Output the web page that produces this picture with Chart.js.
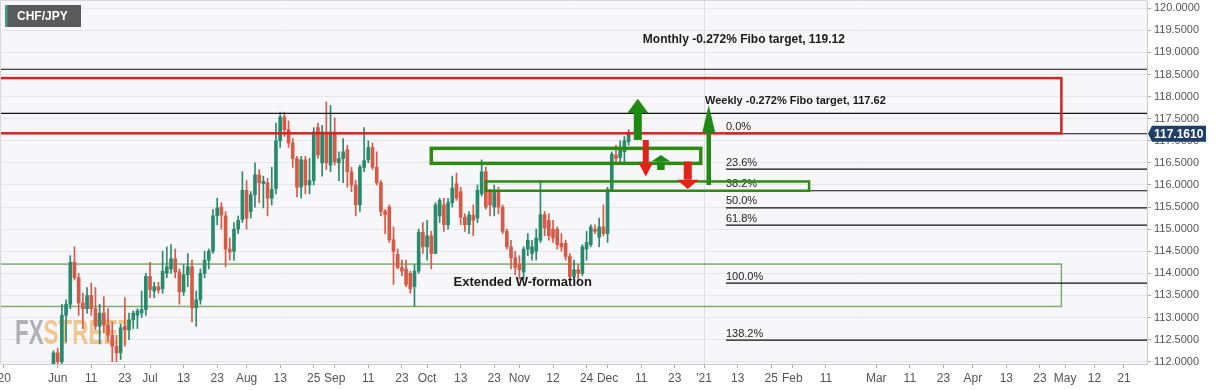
<!DOCTYPE html>
<html>
<head>
<meta charset="utf-8">
<script src="https://cdn.jsdelivr.net/npm/chart.js@4.4.0/dist/chart.umd.min.js"></script>
<style>
  html, body { margin: 0; padding: 0; background: #fff; }
  #wrap { width: 1218px; height: 390px; }
</style>
</head>
<body>
<div id="wrap"><canvas id="chart" width="1218" height="390"></canvas></div>
<script>
// time axis: trading days shown on the chart
var axisStart = '2020-05-13';
var axisEnd = '2021-05-28';

// CHF/JPY daily candles, first candle on 2020-05-29
var candleStart = '2020-05-29';
var opens = [111.95, 112.2, 112.0, 113.05, 113.3, 114.25, 113.9, 113.33, 113.2, 113.5, 113.2, 112.8, 113.1, 112.83, 112.6, 112.35,
  112.2, 112.8, 112.72, 112.95, 113.05, 113.1, 113.18, 113.93, 113.6, 113.7, 113.65, 114.0, 114.1, 114.33, 114.03, 113.58,
  113.97, 114.15, 113.22, 113.4, 114.0, 114.3, 114.5, 115.3, 115.5, 115.3, 114.55, 114.5, 115.0, 115.22, 115.88, 115.4,
  115.78, 116.23, 116.03, 116.05, 115.7, 115.92, 117.0, 117.54, 117.25, 116.95, 116.6, 115.95, 116.57, 116.0, 116.1, 117.3,
  116.5, 117.2, 116.45, 117.2, 116.5, 116.6, 116.8, 116.3, 116.0, 115.55, 116.4, 116.57, 116.85, 116.4, 116.05, 115.4,
  115.5, 114.76, 114.43, 114.13, 114.1, 114.0, 113.7, 114.05, 114.93, 114.6, 114.85, 114.45, 115.3, 115.55, 115.1, 115.6,
  116.03, 115.85, 115.27, 115.1, 115.32, 115.25, 115.8, 116.3, 115.85, 115.5, 115.83, 115.5, 114.95, 114.6, 114.35, 114.2,
  114.03, 114.55, 114.45, 114.5, 114.75, 115.33, 115.2, 115.0, 115.0, 114.68, 114.68, 114.38, 113.93, 114.08, 114.0, 114.55,
  114.65, 115.0, 114.82, 115.05, 114.9, 115.9, 116.68, 116.62, 116.75, 116.98];
var highs = [112.25, 112.3, 113.3, 113.4, 114.4, 114.6, 114.0, 113.55, 113.68, 113.78, 113.68, 113.3, 113.47, 113.2, 112.9, 112.6,
  112.85, 113.45, 113.1, 113.15, 113.2, 113.6, 114.0, 114.25, 113.8, 113.8, 114.5, 114.6, 114.65, 114.55, 114.1, 114.2,
  114.45, 114.3, 113.6, 114.1, 114.5, 114.55, 115.45, 115.7, 115.6, 115.4, 114.8, 115.15, 115.3, 116.3, 116.1, 115.85,
  116.5, 116.35, 116.2, 116.15, 116.4, 117.4, 117.65, 117.65, 117.45, 117.05, 116.65, 116.65, 116.65, 116.6, 117.3, 117.4,
  117.35, 117.88, 117.8, 117.52, 116.75, 117.05, 116.9, 116.4, 116.1, 116.45, 117.3, 117.0, 116.95, 116.75, 116.1, 115.45,
  115.55, 115.05, 114.55, 114.3, 114.3, 114.05, 114.2, 115.0, 115.15, 115.2, 114.95, 115.6, 115.7, 115.7, 115.7, 116.2,
  116.27, 115.95, 115.35, 115.4, 115.55, 116.0, 116.57, 116.4, 115.9, 116.0, 115.95, 115.55, 115.0, 114.75, 114.5, 114.4,
  114.6, 114.9, 114.75, 115.0, 116.1, 115.4, 115.35, 115.2, 115.05, 114.9, 114.75, 114.45, 114.3, 114.2, 114.65, 114.95,
  115.1, 115.1, 115.25, 115.55, 115.95, 116.75, 116.9, 117.0, 117.1, 117.25];
var lows = [111.85, 111.9, 111.95, 112.45, 113.2, 113.85, 113.05, 112.75, 113.1, 113.05, 112.73, 112.4, 112.65, 112.45, 112.0, 112.0,
  112.05, 112.35, 112.5, 112.75, 112.75, 113.0, 113.05, 113.45, 113.45, 113.55, 113.55, 113.9, 114.0, 113.9, 113.3, 113.5,
  113.7, 112.9, 112.8, 113.3, 113.9, 114.1, 114.45, 115.1, 115.0, 114.15, 114.3, 114.3, 114.9, 115.15, 115.0, 115.25,
  115.5, 115.6, 115.48, 115.3, 115.55, 115.8, 116.85, 117.1, 116.85, 116.4, 115.73, 115.7, 115.8, 115.8, 116.0, 116.6,
  116.2, 116.35, 116.3, 116.45, 116.1, 116.05, 115.95, 115.85, 115.3, 115.4, 116.3, 116.5, 116.35, 116.0, 115.3, 114.9,
  114.7, 113.75, 114.1, 113.95, 113.7, 113.55, 113.25, 114.0, 114.45, 114.3, 114.1, 114.45, 115.15, 114.95, 115.0, 115.5,
  115.65, 115.1, 114.95, 114.9, 114.85, 115.15, 115.75, 115.45, 115.3, 115.3, 115.35, 114.9, 114.55, 114.1, 113.97, 113.87,
  113.87, 114.4, 114.3, 114.3, 114.7, 114.85, 114.75, 114.7, 114.55, 114.5, 114.3, 113.9, 113.85, 113.8, 113.95, 114.3,
  114.6, 114.9, 114.6, 114.85, 114.7, 115.85, 116.5, 116.5, 116.5, 116.9];
var closes = [112.2, 112.0, 113.05, 113.3, 114.25, 113.9, 113.33, 113.2, 113.5, 113.2, 112.8, 113.1, 112.83, 112.6, 112.35, 112.2,
  112.77, 112.72, 112.95, 113.1, 113.15, 113.18, 113.93, 113.63, 113.7, 113.62, 114.05, 114.15, 114.33, 114.03, 113.58, 113.97,
  114.15, 113.22, 113.4, 114.0, 114.3, 114.5, 115.3, 115.48, 115.32, 114.55, 114.48, 115.0, 115.2, 115.88, 115.25, 115.78,
  116.23, 116.05, 116.08, 115.7, 115.9, 117.0, 117.54, 117.25, 116.95, 116.6, 115.95, 116.57, 116.0, 116.1, 117.2, 116.68,
  117.2, 116.5, 117.2, 116.52, 116.6, 116.75, 116.3, 116.0, 115.55, 116.4, 116.55, 116.85, 116.4, 116.05, 115.4, 115.33,
  114.76, 114.5, 114.13, 114.05, 113.75, 113.65, 114.05, 114.93, 114.6, 114.85, 114.45, 115.55, 115.65, 115.1, 115.6, 115.93,
  115.7, 115.27, 115.1, 115.32, 115.2, 115.88, 116.3, 115.5, 115.55, 115.83, 115.5, 114.95, 114.6, 114.35, 114.13, 114.08,
  114.55, 114.75, 114.6, 114.8, 115.33, 115.03, 114.85, 114.8, 114.65, 114.6, 114.38, 113.93, 114.08, 114.0, 114.6, 114.7,
  115.05, 114.95, 115.05, 114.9, 115.9, 116.7, 116.6, 116.85, 117.0, 117.161];

// x axis tick labels
var tickDates = ['2020-05-13', '2020-06-01', '2020-06-11', '2020-06-23', '2020-07-01', '2020-07-13', '2020-07-23', '2020-08-03',
  '2020-08-13', '2020-08-25', '2020-09-01', '2020-09-11', '2020-09-23', '2020-10-01', '2020-10-13', '2020-10-23',
  '2020-11-02', '2020-11-12', '2020-11-24', '2020-12-01', '2020-12-11', '2020-12-23', '2021-01-01', '2021-01-13',
  '2021-01-25', '2021-02-01', '2021-02-11', '2021-03-01', '2021-03-11', '2021-03-23', '2021-04-01', '2021-04-13',
  '2021-04-23', '2021-05-03', '2021-05-12', '2021-05-21'];
var tickTexts = ["'20", 'Jun', '11', '23', 'Jul', '13', '23', 'Aug', '13', '25', 'Sep', '11', '23', 'Oct', '13', '23',
  'Nov', '12', '24', 'Dec', '11', '23', "'21", '13', '25', 'Feb', '11', 'Mar', '11', '23', 'Apr', '13', '23', 'May', '12', '21'];

// fibonacci retracement
var fiboNames = ['0.0%', '23.6%', '38.2%', '50.0%', '61.8%', '100.0%', '138.2%'];
var fiboLevels = [117.16, 116.36, 115.87, 115.48, 115.09, 113.78, 112.49];

// target lines across the chart
var targetLevels = [118.62, 117.62];

var upColor = '#2a8a6c';
var downColor = '#d65a47';

var labels = [];
for (var d = new Date(axisStart + 'T00:00:00Z'); d <= new Date(axisEnd + 'T00:00:00Z'); d.setUTCDate(d.getUTCDate() + 1)) {
  var wd = d.getUTCDay();
  if (wd !== 0 && wd !== 6) labels.push(d.toISOString().slice(0, 10));
}

function at(date, shift) {
  return labels.indexOf(date) + (shift || 0);
}

var first = labels.indexOf(candleStart);
var wicks = [], bodies = [], colors = [];
for (var k = 0; k < opens.length; k++) {
  wicks.push({ x: labels[first + k], y: [lows[k], highs[k]] });
  bodies.push({ x: labels[first + k], y: [opens[k], closes[k]] });
  colors.push(closes[k] >= opens[k] ? upColor : downColor);
}

function tickText(v) {
  var i = tickDates.indexOf(labels[v]);
  return i < 0 ? '' : tickTexts[i];
}

var overlay = {
  id: 'overlay',
  beforeDraw: function(chart) {
    var a = chart.chartArea, c = chart.ctx;
    c.save();
    c.fillStyle = '#ffffff';
    c.fillRect(0, 0, chart.width, chart.height);
    c.fillStyle = '#f7f7f9';
    c.fillRect(a.left, a.top, a.right - a.left, a.bottom - a.top);
    c.strokeStyle = '#d6d6db';
    c.lineWidth = 1;
    c.beginPath();
    c.moveTo(0, 0.5); c.lineTo(a.right, 0.5);
    c.moveTo(0.5, 0); c.lineTo(0.5, a.bottom);
    c.stroke();
    c.restore();
  },
  beforeDatasetsDraw: function(chart) {
    var a = chart.chartArea, c = chart.ctx;
    var xs = chart.scales.x, ys = chart.scales.y;
    c.save();
    // watermark
    c.translate(a.left + 14, a.bottom - 20);
    c.scale(0.64, 1);
    c.font = 'bold 35px "Liberation Sans", Arial, sans-serif';
    c.textBaseline = 'alphabetic';
    c.fillStyle = 'rgba(130,130,135,0.6)';
    c.fillText('FX', 0, 0);
    var w = c.measureText('FX').width;
    c.fillStyle = 'rgba(236,160,60,0.55)';
    c.fillText('STREET', w, 0);
    c.restore();

    // W-formation range box
    c.save();
    c.beginPath();
    c.rect(a.left, a.top, a.right - a.left, a.bottom - a.top);
    c.clip();
    c.strokeStyle = '#7faa70';
    c.lineWidth = 1.5;
    var x0 = xs.getPixelForValue(-3), x1 = xs.getPixelForValue(at('2021-04-30', 0.1));
    c.strokeRect(x0, ys.getPixelForValue(114.21), x1 - x0, ys.getPixelForValue(113.25) - ys.getPixelForValue(114.21));
    c.restore();
  },
  afterDatasetsDraw: function(chart) {
    var a = chart.chartArea, c = chart.ctx;
    var xs = chart.scales.x, ys = chart.scales.y;
    var px = function(v) { return xs.getPixelForValue(v); };
    var py = function(v) { return ys.getPixelForValue(v); };
    c.save();
    c.beginPath();
    c.rect(a.left, a.top, a.right - a.left, a.bottom - a.top);
    c.clip();

    // target lines
    c.strokeStyle = '#111';
    c.lineWidth = 1.2;
    targetLevels.forEach(function(v) {
      c.beginPath(); c.moveTo(a.left, py(v)); c.lineTo(a.right, py(v)); c.stroke();
    });

    // fibonacci levels
    var fx = px(at('2021-01-08', 0.2));
    c.font = '11px "Liberation Sans", Arial, sans-serif';
    c.textBaseline = 'bottom';
    c.textAlign = 'left';
    fiboLevels.forEach(function(v, i) {
      c.strokeStyle = '#111';
      c.lineWidth = 1.2;
      c.beginPath(); c.moveTo(fx, py(v)); c.lineTo(a.right, py(v)); c.stroke();
      c.fillStyle = '#222';
      c.fillText(fiboNames[i], fx, py(v) - 1);
    });

    // red resistance zone
    var rx0 = px(-3), rx1 = px(at('2021-04-30', 0.1));
    c.strokeStyle = '#d42424';
    c.lineWidth = 2.5;
    c.strokeRect(rx0, py(118.42), rx1 - rx0, py(117.17) - py(118.42));

    // green support boxes
    c.strokeStyle = '#2f8a14';
    c.lineWidth = 3.5;
    var gx0 = px(at('2020-10-02')), gx1 = px(at('2020-12-31', 0.2));
    c.strokeRect(gx0, py(116.83), gx1 - gx0, py(116.49) - py(116.83));
    c.lineWidth = 2.5;
    var lx0 = px(at('2020-10-21')), lx1 = px(at('2021-02-05'));
    c.strokeRect(lx0, py(116.08), lx1 - lx0, py(115.87) - py(116.08));

    // arrows
    function arrow(xv, tail, base, tip, shaftW, headW, color) {
      var x = px(xv);
      c.fillStyle = color;
      c.fillRect(x - shaftW / 2, Math.min(py(tail), py(base)), shaftW, Math.abs(py(base) - py(tail)));
      c.beginPath();
      c.moveTo(x - headW / 2, py(base));
      c.lineTo(x + headW / 2, py(base));
      c.lineTo(x, py(tip));
      c.closePath();
      c.fill();
    }
    arrow(at('2020-12-10', 0.2), 117.02, 117.63, 117.95, 8, 21, '#1f8a12');
    arrow(at('2020-12-14', 0.1), 117.02, 116.49, 116.19, 6, 14, '#e2231a');
    arrow(at('2020-12-17', 0.7), 116.34, 116.53, 116.68, 7.5, 19, '#1f8a12');
    arrow(at('2020-12-28', 0.1), 116.53, 116.12, 115.91, 8, 22, '#e2231a');
    arrow(at('2021-01-04', 0.1), 116.0, 117.18, 117.81, 4.5, 13, '#1f8a12');

    // notes
    c.fillStyle = '#1a1a1a';
    c.textBaseline = 'middle';
    c.font = 'bold 12px "Liberation Sans", Arial, sans-serif';
    c.fillText('Monthly -0.272% Fibo target, 119.12', px(at('2020-12-11', 0.4)), py(119.28));
    c.font = 'bold 11px "Liberation Sans", Arial, sans-serif';
    c.fillText('Weekly -0.272% Fibo target, 117.62', px(at('2021-01-01', 0.2)), py(117.9));
    c.font = 'bold 13px "Liberation Sans", Arial, sans-serif';
    c.fillText('Extended W-formation', px(at('2020-10-09', 0.3)), py(113.79));
    c.restore();
  },
  afterDraw: function(chart) {
    var a = chart.chartArea, c = chart.ctx;
    var ys = chart.scales.y;
    c.save();
    // last price tag
    var last = closes[closes.length - 1];
    var y = ys.getPixelForValue(last);
    c.fillStyle = '#1f3e66';
    c.beginPath();
    c.moveTo(a.right + 1, y);
    c.lineTo(a.right + 5, y - 8);
    c.lineTo(a.right + 59, y - 8);
    c.lineTo(a.right + 59, y + 8);
    c.lineTo(a.right + 5, y + 8);
    c.closePath();
    c.fill();
    c.fillStyle = '#fff';
    c.font = 'bold 12px "Liberation Sans", Arial, sans-serif';
    c.textBaseline = 'middle';
    c.textAlign = 'left';
    c.fillText(last.toFixed(4), a.right + 7, y + 0.5);

    // symbol box
    c.fillStyle = '#5a5a5a';
    c.fillRect(a.left + 4, a.top + 4, 76, 22);
    c.fillStyle = '#3f9e80';
    c.fillRect(a.left + 4, a.top + 4, 2.5, 22);
    c.fillStyle = '#fff';
    c.font = 'bold 12px "Liberation Sans", Arial, sans-serif';
    c.fillText('CHF/JPY', a.left + 16, a.top + 15.5);
    c.restore();
  }
};

new Chart(document.getElementById('chart'), {
  type: 'bar',
  data: {
    labels: labels,
    datasets: [
      {
        label: 'wick',
        data: wicks,
        backgroundColor: colors,
        barThickness: 1,
        grouped: false,
        borderWidth: 0
      },
      {
        label: 'body',
        data: bodies,
        backgroundColor: colors,
        barThickness: 3,
        minBarLength: 1,
        grouped: false,
        borderWidth: 0
      }
    ]
  },
  options: {
    responsive: false,
    animation: false,
    devicePixelRatio: 1,
    layout: { padding: { left: 1, top: 1, right: 0, bottom: 0 } },
    plugins: {
      legend: { display: false },
      tooltip: { enabled: false }
    },
    scales: {
      x: {
        type: 'category',
        offset: true,
        afterBuildTicks: function(scale) {
          scale.ticks = scale.ticks.filter(function(t) { return tickText(t.value) !== ''; });
        },
        afterFit: function(scale) {
          scale.height = 26;
          scale.paddingLeft = 0;
          scale.paddingRight = 0;
        },
        grid: {
          offset: false,
          drawOnChartArea: true,
          color: function(ctx) {
            return ctx.tick && tickText(ctx.tick.value) === "'21" ? '#dcdce1' : 'rgba(0,0,0,0)';
          },
          tickColor: '#a8a8ae',
          tickLength: 4
        },
        border: { color: '#c9c9ce' },
        ticks: {
          autoSkip: false,
          maxRotation: 0,
          minRotation: 0,
          padding: 3,
          color: '#555',
          font: { family: '"Liberation Sans", Arial, sans-serif', size: 12 },
          callback: function(v) { return tickText(v); }
        }
      },
      y: {
        position: 'right',
        min: 111.948,
        max: 120.165,
        afterFit: function(scale) {
          scale.width = 71;
          scale.paddingTop = 0;
          scale.paddingBottom = 0;
        },
        grid: { color: '#e5e5ea', tickColor: '#a8a8ae', tickLength: 4 },
        border: { color: '#c9c9ce' },
        ticks: {
          stepSize: 0.5,
          includeBounds: false,
          padding: 3,
          color: '#555',
          font: { family: '"Liberation Sans", Arial, sans-serif', size: 11 },
          callback: function(v) { return Number(v).toFixed(4); }
        }
      }
    }
  },
  plugins: [overlay]
});
</script>
</body>
</html>
